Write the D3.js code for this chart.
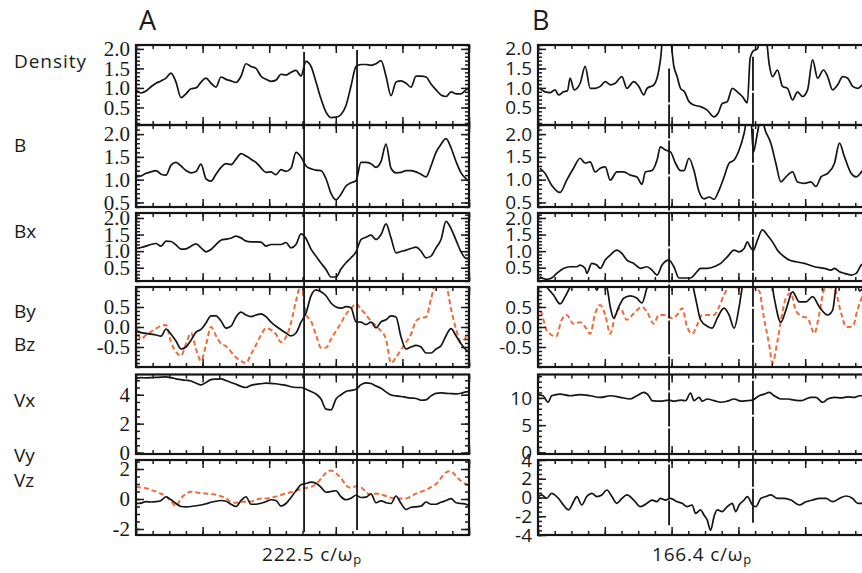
<!DOCTYPE html>
<html>
<head>
<meta charset="utf-8">
<script src="https://cdn.jsdelivr.net/npm/d3@7"></script>
<style>
  body { margin: 0; background: #fff; }
  text { fill: #1a1a1a; }
</style>
</head>
<body>
<svg id="fig" width="862" height="573"></svg>
<script>
// ---------------- data ----------------
// Run A: profiles sampled every 3.341 c/ωp along the cut
const sampleStepA = 3.341;
const densityA = [0.95,0.87,0.92,1.03,1.12,1.18,1.25,1.38,1.15,0.75,
  0.85,0.98,1.0,1.15,1.25,1.12,1.02,1.28,1.22,1.18,
  1.14,1.3,1.62,1.55,1.5,1.3,1.22,1.17,1.2,1.35,
  1.33,1.4,1.45,1.3,1.68,1.55,1.15,0.72,0.38,0.24,
  0.25,0.32,0.55,1.05,1.55,1.6,1.6,1.58,1.62,1.7,
  1.3,0.8,1.15,1.18,1.12,1.02,1.3,1.3,1.28,1.1,
  0.95,0.82,0.78,0.9,0.85,0.85,0.95,1.0];
const bMagA = [1.06,1.08,1.14,1.17,1.2,1.12,1.1,1.32,1.38,1.3,
  1.2,1.15,1.18,1.34,1.02,0.97,1.12,1.27,1.35,1.33,
  1.45,1.57,1.52,1.45,1.38,1.26,1.16,1.17,1.11,1.22,
  1.18,1.25,1.6,1.5,1.3,1.24,1.21,1.2,1.02,0.7,
  0.56,0.68,0.86,0.93,0.98,1.38,1.38,1.35,1.27,1.4,
  1.78,1.25,1.15,1.16,1.2,1.2,1.17,1.12,1.06,1.3,
  1.6,1.78,1.9,1.7,1.4,1.15,1.02,0.93];
const bxA = [1.08,1.11,1.15,1.2,1.23,1.15,1.3,1.29,1.19,1.06,
  1.07,1.15,1.22,1.1,0.98,1.05,1.2,1.33,1.36,1.39,
  1.45,1.4,1.3,1.28,1.28,1.27,1.15,1.2,1.2,1.2,
  1.26,1.1,1.2,1.52,1.38,1.06,0.85,0.64,0.45,0.22,
  0.22,0.46,0.65,0.8,0.98,1.35,1.42,1.48,1.35,1.5,
  1.82,1.4,0.95,0.99,1.03,1.08,1.12,1.0,0.8,0.85,
  1.1,1.35,1.9,1.68,1.33,0.98,0.78,0.76];
const byA = [-0.1,-0.14,-0.16,-0.18,-0.2,-0.23,-0.05,-0.18,-0.35,-0.55,
  -0.5,-0.33,-0.13,-0.06,0.1,0.28,0.28,0.15,-0.03,0.02,
  0.25,0.37,0.3,0.26,0.3,0.33,0.26,0.12,0.02,-0.07,
  -0.15,-0.22,-0.15,0.12,0.35,0.78,0.93,0.88,0.78,0.6,
  0.5,0.47,0.51,0.48,0.13,0.12,0.06,0.12,-0.02,0.13,
  0.18,0.28,0.25,-0.25,-0.55,-0.5,-0.46,-0.5,-0.65,-0.65,
  -0.55,-0.47,-0.22,-0.04,-0.22,-0.42,-0.57,-0.63];
const bzA = [0.02,-0.3,-0.2,-0.12,-0.04,0.03,0.05,-0.38,-0.62,-0.72,
  -0.42,-0.15,-0.55,-0.85,-0.45,0.0,-0.22,-0.42,-0.48,-0.62,
  -0.76,-0.85,-0.9,-0.68,-0.45,-0.2,-0.03,-0.07,-0.18,-0.38,
  -0.25,0.1,0.65,1.05,0.32,0.15,-0.2,-0.52,-0.52,-0.3,
  -0.1,0.1,0.32,0.46,0.58,0.45,0.3,0.15,0.03,-0.1,
  -0.3,-0.9,-0.76,-0.57,-0.38,-0.18,0.15,0.23,0.25,0.7,
  1.1,1.1,1.05,0.45,-0.05,-0.38,-0.25,-0.05];
const vxA = [5.15,5.18,5.17,5.18,5.2,5.22,5.23,5.18,5.1,5.04,
  5.0,4.95,4.8,4.68,4.85,5.05,5.08,5.1,4.98,4.85,
  4.72,4.58,4.5,4.65,4.72,4.76,4.8,4.78,4.76,4.7,
  4.65,4.55,4.5,4.5,4.38,4.22,4.05,3.7,3.0,2.95,
  3.7,4.0,4.22,4.3,4.38,4.7,4.82,4.78,4.6,4.45,
  4.2,3.98,3.92,3.88,3.82,3.77,3.74,3.62,3.65,3.92,
  4.1,4.13,4.1,4.08,4.06,4.1,4.2,4.22];
const vyA = [-0.3,-0.27,-0.18,-0.2,-0.18,-0.1,0.15,-0.05,-0.3,-0.5,
  -0.52,-0.5,-0.45,-0.4,-0.32,-0.22,-0.15,-0.1,-0.15,-0.35,
  -0.5,-0.1,0.15,-0.35,-0.35,-0.28,-0.18,-0.05,-0.1,-0.48,
  -0.3,0.1,0.55,0.95,1.03,1.12,1.05,0.78,0.45,0.5,
  0.55,0.15,-0.05,0.05,0.25,0.1,0.12,0.35,-0.25,-0.12,
  -0.25,-0.3,0.2,-0.3,-0.7,-0.55,-0.52,-0.48,-0.2,-0.35,
  -0.35,-0.22,-0.1,0.02,-0.25,-0.3,-0.35,-0.62];
const vzA = [0.82,0.76,0.72,0.6,0.5,0.35,0.18,-0.15,-0.48,0.05,
  0.35,0.48,0.45,0.4,0.36,0.32,0.28,0.18,0.06,-0.2,
  -0.25,-0.18,-0.18,-0.17,-0.05,0.04,0.04,0.1,0.16,0.27,
  0.37,0.45,0.55,0.66,0.74,0.8,1.0,1.35,1.75,1.9,
  1.7,1.4,0.9,0.74,0.85,0.78,0.45,0.28,0.36,0.3,
  0.2,0.08,0.04,0.04,0.04,0.18,0.36,0.48,0.6,0.8,
  1.0,1.4,1.78,1.85,1.52,1.2,0.98,0.9];

// Run B: [position (c/ωp), value]
const densityB = [[1,0.99],[3.5,0.9],[6,0.88],[8.5,0.95],[10.2,0.82],[12.7,0.9],[14.7,0.93],[16,1.25],
  [18,0.95],[21,1.12],[23.5,1.55],[26,0.99],[28.5,0.99],[31,1.04],[33.5,1.16],[36,1.08],[38.5,1.12],
  [41.8,1.29],[44.3,0.99],[47.7,1.16],[50.2,1.04],[52.7,0.82],[54.3,0.99],[57.7,1.08],[59.3,1.25],
  [61,1.72],[62.3,2.3],[65.7,2.3],[67.7,1.55],[69.3,1.29],[71,0.99],[73,0.9],[75.2,0.65],[77.7,0.56],
  [81,0.52],[84.3,0.43],[87.7,0.26],[89.7,0.35],[91.8,0.6],[94.3,0.65],[96.8,0.99],[99.3,0.9],
  [101.8,0.78],[104.3,0.62],[105.7,1.76],[107.3,1.95],[109.3,2.0],[111,2.3],[113.5,2.3],[115.2,1.6],
  [116.8,1.29],[119.3,1.46],[121.8,1.04],[124.3,0.99],[126.8,0.69],[129.3,0.9],[131.8,0.78],[134.3,0.95],
  [136.8,1.72],[139.3,1.25],[142.2,1.46],[144.3,1.29],[146.8,0.95],[149.3,1.08],[151.8,1.29],[154.3,1.25],
  [156.8,1.04],[159.3,0.99],[161.8,1.08],[166.4,1.1]];
const bMagB = [[1,1.25],[3.5,1.14],[6.8,0.88],[11,0.72],[14.3,0.99],[17.7,1.25],[21,1.47],[23.5,1.36],
  [26,1.39],[28.5,1.17],[31,1.25],[33.5,1.28],[36,0.99],[39.3,1.17],[42.7,1.17],[46,1.1],[49.3,1.06],
  [51.8,0.9],[53.5,1.17],[56.8,1.2],[59.3,1.43],[61,1.72],[63.5,1.65],[66,1.61],[68.5,1.36],[71,1.2],
  [72.7,1.2],[75.2,1.47],[77.7,1.2],[80.2,0.74],[82.7,0.58],[85.2,0.62],[87.7,0.57],[90.2,0.77],
  [92.7,1.06],[95.2,1.36],[97.7,1.43],[100.2,1.65],[102.7,2.02],[104.3,2.35],[106,2.35],[107.3,1.6],
  [109.3,2.02],[111,2.35],[113.5,2.05],[116,1.8],[118.5,1.36],[121,0.95],[123.5,1.06],[126.8,1.17],
  [129.3,0.95],[132.7,0.92],[136,0.95],[138.5,0.85],[141,1.06],[144.3,1.14],[147.7,1.36],[150.2,1.8],
  [152.7,1.5],[156,1.14],[158.5,1.06],[161.8,1.2],[166.4,1.35]];
const bxB = [[1,0.23],[4.3,0.15],[6.8,0.19],[9.3,0.33],[12.7,0.48],[16,0.53],[19.3,0.53],[21,0.58],
  [23.5,0.48],[24.3,0.33],[26.8,0.63],[29.3,0.58],[31,0.48],[33.5,0.73],[36,0.88],[39.3,1.03],
  [41.8,0.93],[44.3,0.73],[47.7,0.63],[51,0.48],[54.3,0.53],[56.8,0.43],[59.3,0.28],[61.8,0.58],
  [65.2,0.73],[67.7,0.53],[70.2,0.19],[73.5,0.19],[76,0.19],[78.5,0.33],[81,0.48],[84.3,0.48],
  [87.7,0.53],[91,0.63],[94.3,0.83],[97.7,1.03],[100.2,0.98],[102.7,1.08],[104.3,1.28],[105.7,1.13],
  [107.3,1.03],[109.3,1.33],[111.8,1.64],[114.3,1.48],[116.8,1.28],[119.3,1.03],[122.7,0.83],
  [125.2,0.73],[128.5,0.68],[132.7,0.63],[137.7,0.53],[142.7,0.48],[146,0.43],[147.7,0.48],
  [150.2,0.38],[152.7,0.33],[156,0.28],[158.5,0.33],[161,0.58],[166.4,0.75]];
const byB = [[1,1.2],[4.3,1.0],[7.7,0.8],[11,0.58],[13.5,0.76],[16,1.0],[18.5,1.2],[27.7,1.1],
  [29.3,0.92],[31,1.1],[34.3,0.98],[36,0.5],[37.7,0.22],[40.2,0.5],[42.7,0.72],[46,0.78],[49.3,0.72],
  [51.8,0.6],[54.3,0.98],[56,1.2],[76,1.2],[78.5,0.72],[81,0.18],[84.3,0.02],[86.8,-0.03],[89.3,0.22],
  [92.7,0.47],[95.2,0.3],[97.7,-0.03],[100.2,0.5],[101.8,1.0],[103.5,1.2],[116,1.2],[117.7,0.72],
  [121,0.12],[123.5,0.42],[126.8,0.88],[130.2,0.63],[133.5,0.63],[136.8,0.76],[140.2,0.5],[144.3,0.3],
  [146.8,0.42],[148.5,1.0],[150.2,1.2],[158.5,1.2],[160.2,0.9],[162,0.97],[166.4,1.1]];
const bzB = [[0.2,0.59],[1.8,0.34],[4.3,-0.08],[6.8,-0.2],[9,-0.24],[11.8,0.18],[14.3,0.3],[17.7,0.08],
  [21,0.12],[23.5,0.0],[26,-0.17],[28.5,0.34],[31,0.55],[33.5,0.3],[36,-0.17],[38.5,0.3],[41,0.47],
  [44.3,0.18],[47.7,0.34],[51.8,0.5],[54.3,0.38],[57.7,0.08],[60.2,0.3],[63.5,0.3],[66.8,0.22],
  [69.3,0.3],[71.8,0.47],[74.3,0.0],[76.8,-0.17],[79.3,0.05],[81.8,0.3],[85.2,0.3],[87.7,0.3],
  [90.2,0.5],[92.7,0.8],[95.2,1.0],[97.7,1.0],[100.2,0.98],[103.5,1.05],[107.3,1.0],[110.2,0.9],
  [112.5,0.25],[115.2,-0.45],[116.8,-0.9],[119.3,-0.35],[121.8,0.38],[123.5,0.72],[126,0.85],
  [128.5,0.4],[131,0.28],[134.3,0.22],[137.7,-0.16],[140.2,0.35],[142.7,0.95],[145.2,1.0],[147.7,0.95],
  [151,0.35],[153.5,0.0],[156.8,0.02],[159.3,0.45],[162,0.8],[166.4,1.0]];
const vxB = [[0,10.6],[2.5,10.4],[5,9.2],[6.8,10.4],[11,10.7],[16,10.4],[21,10.6],[26,10.4],[31,10.1],
  [36,10.4],[41,10.1],[46,9.8],[49.3,10.4],[52.7,11.0],[55.2,10.4],[56.8,9.5],[61,9.4],[65.2,9.6],
  [67.7,9.4],[71,9.6],[73.5,9.5],[76,10.9],[77.7,9.5],[80.2,10.1],[81.8,9.4],[84.3,9.8],[87.7,9.5],
  [91,9.2],[94.3,9.4],[97.7,9.8],[101,9.4],[104.3,9.5],[106.8,9.6],[110.2,10.4],[112.7,10.7],
  [115.2,11.0],[117.7,10.4],[121,9.8],[124.3,9.8],[127.7,9.6],[131,9.5],[133.5,9.8],[136,10.1],
  [138.5,10.1],[141.8,9.2],[144.3,9.8],[147.7,10.1],[151,10.0],[154.3,10.2],[157.7,10.1],[160.2,10.4],
  [162,10.4],[166.4,10.5]];
const vyB = [[0.2,0.1],[1.8,0.27],[4.3,-0.1],[6.8,0.45],[10.2,-0.1],[12.7,-0.8],[15.2,-1.33],[17.7,-0.45],
  [19.3,0.1],[21.8,-0.8],[24.3,0.1],[26.8,0.45],[29.3,0.1],[31.8,0.27],[34.3,0.8],[36.8,0.1],
  [39.3,-0.62],[41.8,-0.1],[44.3,0.27],[47.7,-0.27],[51,-0.98],[54.3,-0.62],[56.8,-0.27],[59.3,-0.45],
  [61,-0.1],[63.5,-0.27],[66,-0.1],[69.3,-0.45],[71.8,-0.62],[74.3,-0.98],[76.8,-0.8],[78.5,-1.69],
  [81,-1.33],[82.7,-1.87],[84.3,-2.4],[86,-3.5],[87.7,-2.04],[89.3,-1.33],[91.8,-1.5],[94.3,-0.98],
  [96.8,-0.62],[98.5,-1.5],[100.2,-0.8],[102.7,-0.27],[104.3,0.1],[106.8,-0.8],[108.5,-0.98],
  [111,-0.1],[113.5,0.1],[116,0.27],[119.3,-0.1],[122.7,-0.1],[126,-0.27],[130.2,-0.8],[133.5,-0.45],
  [136.8,-0.27],[140.2,-0.1],[143.5,-0.1],[146.8,-0.45],[150.2,-0.1],[153.5,0.16],[156.8,-0.1],
  [159.3,-0.62],[162,-0.62],[166.4,-0.5]];

// shock-crossing markers: position and vertical span (Density value at top, V value at bottom)
const cutsA = [{x:112.3, from:1.92, to:-2.2}, {x:147.7, from:1.97, to:-2.07}];
const cutsB = [{x:65.3, from:1.5, to:-2.95}, {x:107.1, from:1.8, to:-2.7}];

// tick labels
const fieldLabels = [0.5, 1.0, 1.5, 2.0];
const byLabels = [-0.5, 0.0, 0.5];
const vxLabelsA = [0, 2, 4];
const vzLabelsA = [-2, 0, 2];
const vxLabelsB = [0, 5, 10];
const vzLabelsB = [-4, -2, 0, 2, 4];

const rowNames = [
  {text:'Density', y:68, len:72},
  {text:'B', y:152},
  {text:'Bx', y:238},
  {text:'By', y:318},
  {text:'Bz', y:351},
  {text:'Vx', y:407},
  {text:'Vy', y:462},
  {text:'Vz', y:487}
];

// ---------------- drawing ----------------
const BLACK = '#141414';
const ORANGE = '#EF6B3A';
const svg = d3.select('#fig');
const defs = svg.append('defs');
const plotLayer = svg.append('g').attr('class', 'plots');
const tickLayer = svg.append('g').attr('class', 'tick-marks');

const toPairs = arr => arr.map((v, i) => [i * sampleStepA, v]);
const f1 = d => d.toFixed(1);
const f0 = d => String(d);

const rowBoxes = [
  {top:45, bottom:125},
  {top:125, bottom:207},
  {top:213, bottom:281},
  {top:287, bottom:367},
  {top:374.5, bottom:454},
  {top:460, bottom:535}
];

const panelA = {
  id:'A', x0:136, x1:469, xDomain:[0,222.5], cuts:cutsA, cutDash:null,
  labelFont:'"Liberation Serif", "Times New Roman", serif', labelSize:21, labelPad:6,
  title:'A', titleX:139, caption:'222.5 c/ω', capX:262,
  rows:[
    {domain:[0.05,2.1], major:fieldLabels, minor:0.1, labels:fieldLabels, fmt:f1, series:[{d:toPairs(densityA), c:BLACK}]},
    {domain:[0.4,2.2], major:fieldLabels, minor:0.1, labels:fieldLabels, fmt:f1, series:[{d:toPairs(bMagA), c:BLACK}]},
    {domain:[0.1,2.15], major:fieldLabels, minor:0.1, labels:fieldLabels, fmt:f1, series:[{d:toPairs(bxA), c:BLACK}]},
    {domain:[-1,1], major:byLabels, minor:0.1, labels:byLabels, fmt:f1,
      series:[{d:toPairs(bzA), c:ORANGE, dash:'5,3'}, {d:toPairs(byA), c:BLACK}]},
    {domain:[-0.1,5.4], major:vxLabelsA, minor:0.5, labels:vxLabelsA, fmt:f0, series:[{d:toPairs(vxA), c:BLACK}]},
    {domain:[-2.4,2.6], major:vzLabelsA, minor:0.5, labels:vzLabelsA, fmt:f0,
      series:[{d:toPairs(vzA), c:ORANGE, dash:'5,3'}, {d:toPairs(vyA), c:BLACK}]}
  ]
};

const panelB = {
  id:'B', x0:538, x1:872, xDomain:[0,166.4], cuts:cutsB, cutDash:'34,2',
  labelFont:'"Open Sans", "Noto Sans", sans-serif', labelSize:19, labelPad:6,
  title:'B', titleX:532, caption:'166.4 c/ω', capX:652,
  rows:[
    {domain:[0.05,2.1], major:fieldLabels, minor:0.1, labels:fieldLabels, fmt:f1, series:[{d:densityB, c:BLACK}]},
    {domain:[0.4,2.2], major:fieldLabels, minor:0.1, labels:fieldLabels, fmt:f1, series:[{d:bMagB, c:BLACK}]},
    {domain:[0.1,2.15], major:fieldLabels, minor:0.1, labels:fieldLabels, fmt:f1, series:[{d:bxB, c:BLACK}]},
    {domain:[-1,1], major:byLabels, minor:0.1, labels:byLabels, fmt:f1,
      series:[{d:bzB, c:ORANGE, dash:'5,3'}, {d:byB, c:BLACK}]},
    {domain:[-0.3,14.3], major:vxLabelsB, minor:1, labels:vxLabelsB, fmt:f0, series:[{d:vxB, c:BLACK}]},
    {domain:[-4,4], major:vzLabelsB, minor:0.5, labels:vzLabelsB, fmt:f0, series:[{d:vyB, c:BLACK}]}
  ]
};

function stepValues(domain, step) {
  const lo = Math.ceil(domain[0] / step - 1e-9), hi = Math.floor(domain[1] / step + 1e-9);
  return d3.range(lo, hi + 1).map(k => +(k * step).toFixed(6));
}

// inward tick marks on all four sides of a frame, via d3 axes with negative tick size
function frameTicks(x, y, box, p, xMajor, xMinor, yMajor, yMinor) {
  const sides = [
    {axis: d3.axisLeft(y), at: `translate(${p.x0},0)`, major: yMajor, minor: yMinor},
    {axis: d3.axisRight(y), at: `translate(${p.x1},0)`, major: yMajor, minor: yMinor},
    {axis: d3.axisTop(x), at: `translate(0,${box.top})`, major: xMajor, minor: xMinor},
    {axis: d3.axisBottom(x), at: `translate(0,${box.bottom})`, major: xMajor, minor: xMinor}
  ];
  sides.forEach(s => {
    [[s.minor, -4], [s.major, -8]].forEach(([vals, size]) => {
      const a = tickLayer.append('g').attr('transform', s.at)
        .call(s.axis.tickValues(vals).tickSize(size).tickFormat(() => ''));
      a.select('.domain').remove();
      a.selectAll('line').attr('stroke', '#1a1a1a').attr('stroke-width', 1.5);
    });
  });
}

function drawPanel(p) {
  const x = d3.scaleLinear().domain(p.xDomain).range([p.x0, p.x1]);
  const span = p.xDomain[1] - p.xDomain[0];
  const xMajor = d3.range(0, 6).map(k => p.xDomain[0] + k * span / 5);
  const xMinor = d3.range(0, 21).map(k => p.xDomain[0] + k * span / 20);
  const yScales = [];

  p.rows.forEach((r, ri) => {
    const box = rowBoxes[ri];
    const y = d3.scaleLinear().domain(r.domain).range([box.bottom, box.top]);
    yScales.push(y);
    const g = plotLayer.append('g').attr('class', `row row-${p.id}-${ri}`);
    const clipId = `clip-${p.id}-${ri}`;
    defs.append('clipPath').attr('id', clipId).append('rect')
      .attr('x', p.x0).attr('y', box.top)
      .attr('width', p.x1 - p.x0).attr('height', box.bottom - box.top);

    r.series.forEach(s => {
      g.append('path')
        .datum(s.d)
        .attr('clip-path', `url(#${clipId})`)
        .attr('fill', 'none')
        .attr('stroke', s.c)
        .attr('stroke-width', s.dash ? 2 : 1.7)
        .attr('stroke-linejoin', 'round')
        .attr('stroke-dasharray', s.dash || null)
        .attr('d', d3.line().curve(d3.curveMonotoneX).x(d => x(d[0])).y(d => y(d[1])));
    });

    g.append('rect')
      .attr('x', p.x0).attr('y', box.top)
      .attr('width', p.x1 - p.x0).attr('height', box.bottom - box.top)
      .attr('fill', 'none').attr('stroke', BLACK).attr('stroke-width', 2.2);

    frameTicks(x, y, box, p, xMajor, xMinor, r.major, stepValues(r.domain, r.minor));

    const lab = g.append('g').attr('transform', `translate(${p.x0},0)`)
      .call(d3.axisLeft(y).tickValues(r.labels).tickSize(0).tickPadding(p.labelPad).tickFormat(r.fmt));
    lab.select('.domain').remove();
    lab.selectAll('text')
      .attr('font-family', p.labelFont)
      .attr('font-size', p.labelSize)
      .attr('fill', '#1a1a1a');
  });

  // shock-crossing markers
  const yTop = yScales[0], yBot = yScales[yScales.length - 1];
  svg.append('g').selectAll('line').data(p.cuts).join('line')
    .attr('x1', d => x(d.x)).attr('x2', d => x(d.x))
    .attr('y1', d => yTop(d.from)).attr('y2', d => yBot(d.to))
    .attr('stroke', BLACK).attr('stroke-width', 1.8)
    .attr('stroke-dasharray', p.cutDash);

  svg.append('text')
    .attr('x', p.titleX).attr('y', 30)
    .attr('font-family', '"Open Sans", "Noto Sans", sans-serif')
    .attr('font-size', 27)
    .text(p.title);

  const cap = svg.append('text')
    .attr('x', p.capX).attr('y', 561)
    .attr('font-family', '"Open Sans", "Noto Sans", sans-serif')
    .attr('font-size', 19)
    .attr('letter-spacing', 0.8)
    .text(p.caption);
  cap.append('tspan').attr('font-size', 13).attr('dy', 3).text('p');
}

drawPanel(panelA);
drawPanel(panelB);

svg.append('g').selectAll('text').data(rowNames).join('text')
  .attr('x', 14).attr('y', d => d.y)
  .attr('font-family', '"Open Sans", "Noto Sans", sans-serif')
  .attr('font-size', 19)
  .attr('textLength', d => d.len || null)
  .attr('lengthAdjust', 'spacing')
  .text(d => d.text);
</script>
</body>
</html>
